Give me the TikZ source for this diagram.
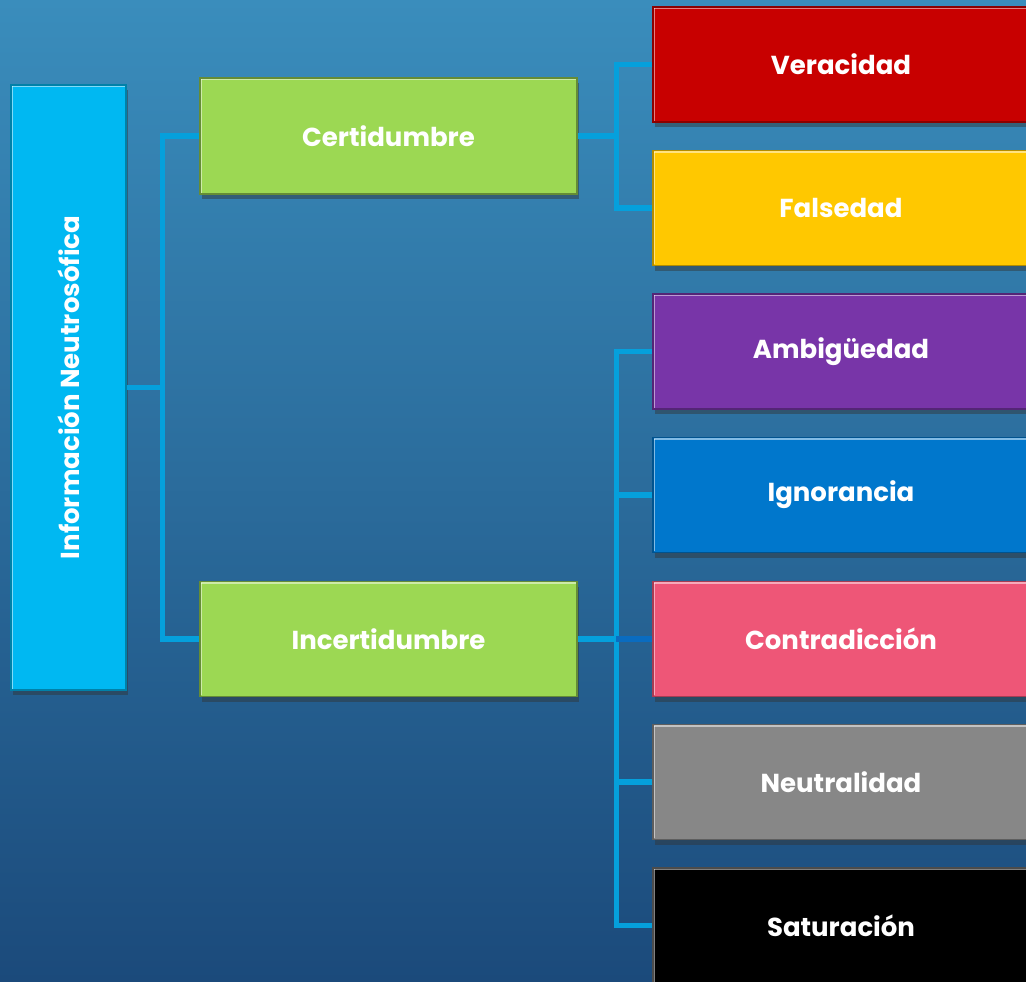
\documentclass[tikz,border=0pt]{standalone}
\usepackage{fontspec}
\setmainfont{Poppins}
\usetikzlibrary{shadows,calc}
\definecolor{bgtop}{HTML}{3A8DBC}
\definecolor{bgbot}{HTML}{1B4A7B}
\definecolor{conncol}{HTML}{05A0DC}
\definecolor{conndark}{HTML}{0A6CC0}
\definecolor{cinfo}{HTML}{00B8F2}
\definecolor{cgreen}{HTML}{9CD853}
\definecolor{cred}{HTML}{C80000}
\definecolor{cyellow}{HTML}{FFC800}
\definecolor{cpurple}{HTML}{7835A8}
\definecolor{cblue}{HTML}{0077CC}
\definecolor{cpink}{HTML}{EE5677}
\definecolor{cgray}{HTML}{878787}
\definecolor{cblack}{HTML}{000000}
\tikzset{
  box/.style={rectangle, inner sep=0pt, text=white, font=\bfseries\fontsize{26}{30}\selectfont,
    line width=1.2pt, drop shadow={opacity=0.45, shadow xshift=2pt, shadow yshift=-5pt, fill=black!80}},
  conn/.style={conncol, line width=5.8pt, line join=miter},
  hl/.style={line width=1.5pt, opacity=0.5, white},
}
\begin{document}
\begin{tikzpicture}[x=1pt,y=-1pt]
\shade[top color=bgtop, bottom color=bgbot] (0,0) rectangle (1026,982);
\useasboundingbox (0,0) rectangle (1026,982);
\begin{scope}
\clip (0,0) rectangle (1026,982);
% nodes
\node[box, fill=cinfo, draw=cinfo!70!black, minimum width=115pt, minimum height=605pt] (info) at (68.5,387.5)
  {\rotatebox{90}{Información Neutrosófica}};
\node[box, fill=cgreen, draw=cgreen!65!black, minimum width=377pt, minimum height=116pt] (cert) at (388.5,136) {Certidumbre};
\node[box, fill=cgreen, draw=cgreen!65!black, minimum width=377pt, minimum height=115pt] (inc) at (388.5,639) {Incertidumbre};
\node[box, fill=cred, draw=cred!70!black, minimum width=376pt, minimum height=115pt] (ver) at (841,64.5) {Veracidad};
\node[box, fill=cyellow, draw=cyellow!70!black, minimum width=376pt, minimum height=115pt] (fal) at (841,208) {Falsedad};
\node[box, fill=cpurple, draw=cpurple!70!black, minimum width=376pt, minimum height=115pt] (amb) at (841,351.5) {Ambigüedad};
\node[box, fill=cblue, draw=cblue!70!black, minimum width=376pt, minimum height=115pt] (ign) at (841,495) {Ignorancia};
\node[box, fill=cpink, draw=cpink!70!black, minimum width=376pt, minimum height=115pt] (con) at (841,639) {Contradicción};
\node[box, fill=cgray, draw=cgray!70!black, minimum width=376pt, minimum height=115pt] (neu) at (841,782) {Neutralidad};
\node[box, fill=cblack, draw=gray!60!black, minimum width=376pt, minimum height=115pt] (sat) at (841,925.5) {Saturación};
% bevel highlights
\foreach \n in {info,cert,inc,ver,fal,amb,ign,con,neu,sat}{
  \draw[hl] ($(\n.north west)+(2,2)$) -- ($(\n.north east)+(-2,2)$);
  \draw[hl] ($(\n.north west)+(2,2)$) -- ($(\n.south west)+(2,-2)$);
}
\end{scope}
% connectors
\draw[conn] (info.east) -- ++(37,0);
\draw[conn] (cert.west) -- ++(-37,0) |- (inc.west);
\draw[conn] (cert.east) -- ++(40,0);
\draw[conn] (ver.west) -- ++(-36,0) |- (fal.west);
\draw[conn] (inc.east) -- ++(40,0);
\draw[conn] (amb.west) -- ++(-36,0) |- (sat.west);
\draw[conn] (ign.west) -- ++(-36,0);
\draw[conn, conndark] (con.west) -- ++(-36,0);
\draw[conn] (neu.west) -- ++(-36,0);
\end{tikzpicture}
\end{document}
